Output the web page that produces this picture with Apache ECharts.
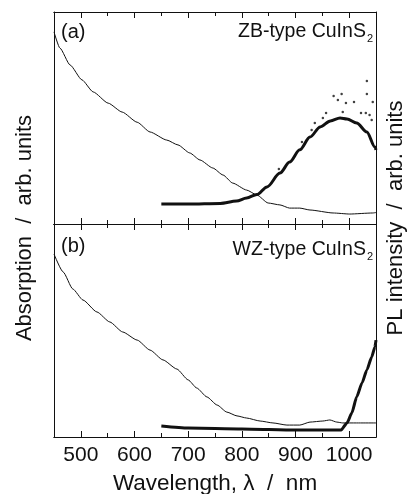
<!DOCTYPE html>
<html>
<head>
<meta charset="utf-8">
<script src="https://cdn.jsdelivr.net/npm/echarts@6/dist/echarts.min.js"></script>
<style>
html,body{margin:0;padding:0;background:#fff;}
#chart{width:410px;height:494px;}
</style>
</head>
<body>
<div id="chart"></div>
<script>
// ---- data (wavelength in nm, values in arb. units 0-100 per panel) ----
var majorTicks = [500, 600, 700, 800, 900, 1000];
var minorTicks = [550, 650, 750, 850, 950];

// Panel (a) ZB-type absorption
var absA_wl  = [450, 461, 480, 502, 523, 551, 577, 605, 629, 660, 681, 703, 722, 746, 765, 783, 809, 828, 849, 871, 889, 908, 927, 970, 1001, 1044, 1050];
var absA_val = [90.6, 83, 75, 68, 62.3, 57, 52.8, 48, 43.4, 39.6, 37.3, 33.5, 30.2, 26.4, 23.1, 19.3, 16, 13.7, 9.9, 9, 7.5, 7.5, 6.6, 5.2, 4.7, 5.2, 5.4];
// Panel (a) PL
var plA_wl  = [650, 700, 760, 790, 809, 828, 847, 871, 889, 908, 927, 946, 965, 983, 996, 1014, 1033, 1048, 1050];
var plA_val = [9.4, 9.4, 9.7, 10.8, 12.3, 13.9, 17.5, 24, 29.2, 35, 41, 45.8, 48.6, 50, 49.5, 47.6, 43.4, 36.3, 35];
// Panel (a) PL scattered points
var plA_out_wl  = [1033, 1033, 971, 986, 979, 994, 1009, 988, 1022, 1031, 1038, 1042, 957, 951, 936, 930, 912, 1044, 869];
var plA_out_val = [67.5, 61.3, 60.4, 61.3, 58.5, 57.1, 57.5, 52.8, 52.4, 52.4, 51.4, 49.1, 52.4, 50, 47.6, 44.3, 38.7, 57.5, 25.9];

// Panel (b) WZ-type absorption
var absB_wl  = [450, 467, 485, 504, 530, 554, 578, 605, 629, 653, 679, 700, 716, 735, 754, 772, 791, 809, 834, 858, 884, 908, 927, 951, 964, 977, 988, 1014, 1048, 1050];
var absB_val = [85.9, 77.5, 69.5, 64.3, 58.7, 54, 49.3, 45.5, 40.8, 36.2, 31.9, 26.8, 23, 18.8, 15, 11.7, 9.9, 8.9, 7.5, 6.6, 5.6, 5.6, 7, 7.5, 8, 7, 6.6, 6.6, 6.6, 6.6];
// Panel (b) PL
var plB_wl  = [650, 700, 800, 900, 985, 996, 1005, 1014, 1024, 1033, 1042, 1048, 1050];
var plB_val = [5.2, 4.2, 3.8, 3.3, 3.3, 6.6, 11.3, 18.8, 25.4, 31.5, 37.6, 42.3, 45.5];

function pairs(xs, ys) { return xs.map(function (x, i) { return [x, ys[i]]; }); }

var chart = echarts.init(document.getElementById('chart'), null, {renderer: 'canvas'});
var FONT = 'Liberation Sans, Arial, Helvetica, sans-serif';
var ink = '#111';

function xAx(grid, pos, ticks, len, showLabel) {
  return {
    type: 'value', gridIndex: grid, position: pos, min: 450, max: 1050,
    axisLine: {show: true, onZero: false, lineStyle: {color: ink, width: 1}},
    axisTick: {show: true, inside: true, length: len, customValues: ticks, lineStyle: {color: ink, width: 1}},
    axisLabel: {show: showLabel, customValues: ticks, color: ink, fontSize: 21, fontFamily: FONT, margin: 8,
                formatter: function (v) { return String(v); }},
    splitLine: {show: false}
  };
}
function yAx(grid, pos) {
  return {
    type: 'value', gridIndex: grid, position: pos, min: 0, max: 100,
    axisLine: {show: true, onZero: false, lineStyle: {color: ink, width: 1}},
    axisTick: {show: false}, axisLabel: {show: false}, splitLine: {show: false}
  };
}

var option = {
  backgroundColor: '#fff',
  animation: false,
  grid: [
    {left: 54, top: 12, width: 322, height: 212},
    {left: 54, top: 224, width: 322, height: 213}
  ],
  xAxis: [
    xAx(0, 'bottom', majorTicks, 6, false),
    xAx(0, 'bottom', minorTicks, 4, false),
    xAx(0, 'top', majorTicks, 6, false),
    xAx(0, 'top', minorTicks, 4, false),
    xAx(1, 'top', majorTicks, 6, false),
    xAx(1, 'top', minorTicks, 4, false),
    xAx(1, 'bottom', majorTicks, 6, true),
    xAx(1, 'bottom', minorTicks, 4, false)
  ],
  yAxis: [yAx(0, 'left'), yAx(0, 'right'), yAx(1, 'left'), yAx(1, 'right')],
  series: [
    {type: 'line', xAxisIndex: 0, yAxisIndex: 0, data: pairs(absA_wl, absA_val), showSymbol: false,
     smooth: 0.2, smoothMonotone: 'x', lineStyle: {color: ink, width: 1}},
    {type: 'line', xAxisIndex: 0, yAxisIndex: 0, data: pairs(plA_wl, plA_val), showSymbol: false,
     smooth: 0.3, smoothMonotone: 'x', lineStyle: {color: ink, width: 3}},
    {type: 'scatter', xAxisIndex: 0, yAxisIndex: 0, data: pairs(plA_out_wl, plA_out_val), symbolSize: 2.5,
     itemStyle: {color: ink}},
    {type: 'line', xAxisIndex: 6, yAxisIndex: 2, data: pairs(absB_wl, absB_val), showSymbol: false,
     smooth: 0.2, smoothMonotone: 'x', lineStyle: {color: ink, width: 1}},
    {type: 'line', xAxisIndex: 6, yAxisIndex: 2, data: pairs(plB_wl, plB_val), showSymbol: false,
     smooth: 0.2, smoothMonotone: 'x', lineStyle: {color: ink, width: 3}}
  ],
  graphic: [
    {type: 'text', left: 61, top: 22, style: {text: '(a)', font: '20px ' + FONT, fill: ink}},
    {type: 'text', left: 61, top: 236, style: {text: '(b)', font: '20px ' + FONT, fill: ink}},
    {type: 'text', right: 37, top: 22, style: {
      text: 'ZB-type CuInS{s|2}', font: '19.5px ' + FONT, fill: ink,
      rich: {s: {fontSize: 11, fontFamily: FONT, fill: ink, padding: [13, 0, 0, 1]}}}},
    {type: 'text', right: 37, top: 240, style: {
      text: 'WZ-type CuInS{s|2}', font: '19.5px ' + FONT, fill: ink,
      rich: {s: {fontSize: 11, fontFamily: FONT, fill: ink, padding: [13, 0, 0, 1]}}}},
    {type: 'text', x: 25, y: 228, rotation: Math.PI / 2, style: {
      text: 'Absorption  /  arb. units', font: '22px ' + FONT, fill: ink, align: 'center', verticalAlign: 'middle'}},
    {type: 'text', x: 396, y: 218, rotation: Math.PI / 2, style: {
      text: 'PL intensity  /  arb. units', font: '22px ' + FONT, fill: ink, align: 'center', verticalAlign: 'middle'}},
    {type: 'text', x: 215, y: 484, style: {
      text: 'Wavelength, \u03bb  /  nm', font: '22.5px ' + FONT, fill: ink, align: 'center', verticalAlign: 'middle'}}
  ]
};
chart.setOption(option);
</script>
</body>
</html>
